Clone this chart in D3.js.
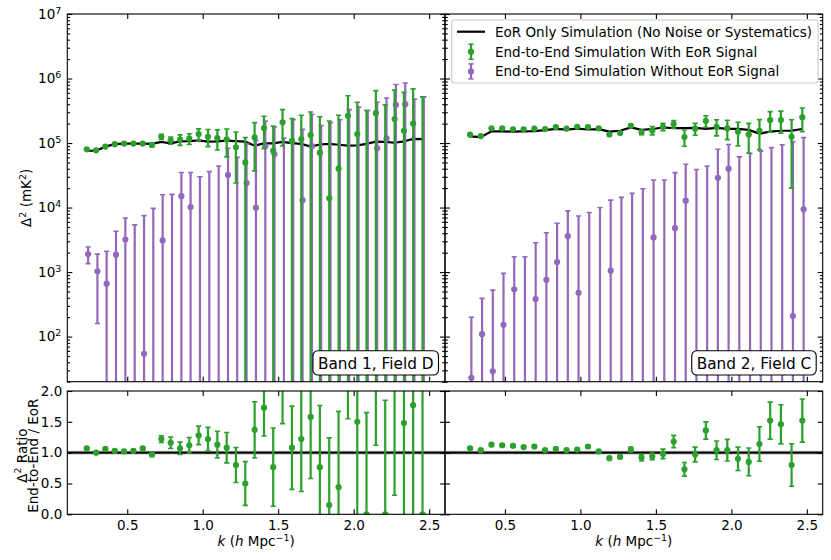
<!DOCTYPE html>
<html>
<head>
<meta charset="utf-8">
<script src="https://cdn.jsdelivr.net/npm/d3@7"></script>
<style>
  body { margin: 0; background: #fff; }
  text { font-family: "DejaVu Sans", sans-serif; }
</style>
</head>
<body>
<div id="chart"></div>
<script>
// Band 1, Field D (left column)
const kD = [0.232, 0.294, 0.355, 0.417, 0.479, 0.541, 0.603, 0.664, 0.726, 0.788, 0.850, 0.911, 0.973,
  1.035, 1.097, 1.159, 1.220, 1.282, 1.344, 1.406, 1.467, 1.529, 1.591, 1.653, 1.715, 1.776, 1.838,
  1.900, 1.962, 2.024, 2.085, 2.147, 2.209, 2.271, 2.333, 2.394, 2.456];
const eorD = [7.6e4, 7.6e4, 8.8e4, 9.6e4, 9.8e4, 9.8e4, 9.8e4, 9.7e4, 1.04e5, 9.9e4, 1.06e5, 1.07e5, 1.10e5,
  1.05e5, 1.06e5, 1.09e5, 1.07e5, 1.05e5, 9.1e4, 9.9e4, 9.9e4, 1.04e5, 1.0e5, 9.7e4, 8.8e4, 9.5e4, 9.7e4,
  9.4e4, 9.1e4, 9.2e4, 9.7e4, 1.05e5, 1.04e5, 1.01e5, 1.06e5, 1.16e5, 1.15e5];
const withD = [8.0e4, 7.7e4, 8.8e4, 9.6e4, 9.8e4, 9.8e4, 9.8e4, 9.4e4, 1.25e5, 1.10e5, 1.13e5, 1.17e5, 1.38e5,
  1.25e5, 1.19e5, 1.13e5, 8.6e4, 5.0e4, 1.22e5, 1.71e5, 7.6e4, 2.1e5, 1.07e5, 1.15e5, 1.33e5, 7.1e4, 1.39e4,
  4.0e4, 2.65e5, 1.38e5, -5e4, 2.9e5, -3e4, 2.35e5, 1.55e5, 2.0e5, -1e4];
const withErrD = [2.5e3, 2.5e3, 2.5e3, 2.5e3, 2.5e3, 2.5e3, 2.5e3, 7e3, 1.1e4, 1.4e4, 2.1e4, 2.2e4, 2.8e4,
  3.7e4, 4.1e4, 5.2e4, 6.2e4, 7.2e4, 8.5e4, 8.9e4, 1.08e5, 1.2e5, 1.33e5, 1.55e5, 1.7e5, 1.85e5, 2.06e5,
  2.3e5, 2.75e5, 2.9e5, 3.7e5, 3.6e5, 4.2e5, 4.25e5, 4.55e5, 4.9e5, 5.3e5];
const withoutD = [1.9e3, 1.03e3, 660, 1.86e3, 3.2e3, -600, 54, -1000, 3.1e3, -2000, 1.5e4, 1.02e4, -5000,
  -4000, -5000, 3.2e4, -8000, 2.4e4, 9.9e3, 8.9e4, 6.7e4, -1e4, -2e4, 1.3e4, 9.0e4, -2e4, -3e4,
  -3e4, -4e4, -4e4, -5e4, 8.3e4, 1.18e5, 3.9e5, 4.0e5, -5e4, -5e4];
const withoutErrD = [5.5e2, 8.7e2, 1.44e3, 2.44e3, 3.7e3, 6.0e3, 7.45e3, 1.07e4, 1.27e4, 1.8e4, 2.0e4, 2.48e4, 3.5e4,
  4.0e4, 4.9e4, 5.1e4, 6.8e4, 7.3e4, 1.0e5, 1.3e5, 1.1e5, 1.3e5, 2.5e5, 1.5e5, 1.9e5, 2.06e5, 2.37e5,
  2.6e5, 3.7e5, 4.0e5, 3.7e5, 3.5e5, 3.8e5, 4.2e5, 4.5e5, 5.3e5, 5.7e5];
const ratioD = [1.07, 1.00, 1.06, 1.03, 1.02, 1.03, 1.07, 0.97, 1.22, 1.16, 1.07, 1.12, 1.28,
  1.22, 1.13, 1.08, 0.80, 0.50, 1.37, 1.73, 0.765, 2.05, 1.08, 1.22, 1.58, 0.765, 0.15,
  0.44, 2.9, 1.50, 0.0, 2.8, 0.0, 2.33, 1.48, 1.77, 0.0];
const ratioErrD = [0.02, 0.02, 0.02, 0.02, 0.02, 0.02, 0.025, 0.03, 0.055, 0.093, 0.1, 0.126, 0.15,
  0.19, 0.216, 0.246, 0.284, 0.355, 0.456, 0.46, 0.634, 0.58, 0.675, 0.85, 1.0, 1.0, 1.09,
  1.23, 1.35, 1.6, 1.65, 1.68, 1.85, 2.02, 1.9, 2.0, 2.1];

// Band 2, Field C (right column)
const kC = [0.269, 0.340, 0.411, 0.482, 0.553, 0.624, 0.695, 0.766, 0.837, 0.908, 0.979, 1.050, 1.121,
  1.192, 1.263, 1.334, 1.405, 1.476, 1.547, 1.618, 1.689, 1.760, 1.831, 1.902, 1.973, 2.044,
  2.115, 2.186, 2.257, 2.328, 2.399, 2.470];
const eorC = [1.27e5, 1.24e5, 1.52e5, 1.52e5, 1.5e5, 1.52e5, 1.53e5, 1.59e5, 1.66e5, 1.62e5, 1.67e5, 1.62e5, 1.64e5,
  1.5e5, 1.55e5, 1.75e5, 1.6e5, 1.65e5, 1.74e5, 1.7e5, 1.7e5, 1.72e5, 1.66e5, 1.72e5, 1.66e5, 1.66e5,
  1.6e5, 1.4e5, 1.5e5, 1.55e5, 1.56e5, 1.65e5];
const withC = [1.35e5, 1.28e5, 1.69e5, 1.69e5, 1.63e5, 1.63e5, 1.67e5, 1.65e5, 1.77e5, 1.67e5, 1.79e5, 1.77e5, 1.69e5,
  1.36e5, 1.43e5, 1.85e5, 1.47e5, 1.57e5, 1.79e5, 1.97e5, 1.24e5, 1.67e5, 2.2e5, 1.79e5, 1.69e5, 1.5e5,
  1.36e5, 1.55e5, 2.27e5, 2.27e5, 1.25e5, 2.5e5];
const withErrC = [3e3, 3e3, 3e3, 3e3, 3e3, 3e3, 3e3, 3e3, 3e3, 3e3, 3e3, 4e3, 5e3,
  6e3, 6e3, 8e3, 1.2e4, 2.3e4, 2.3e4, 2.7e4, 3.5e4, 3.5e4, 4.5e4, 5e4, 5.6e4, 6e4,
  6.6e4, 7.6e4, 8e4, 8.5e4, 1.05e5, 1.0e5];
const withoutC = [23, 109, 29, 152, 540, -100, 381, 758, 1430, 3600, 478, -500, -500,
  1050, -1000, -1000, -1000, 3450, -2000, 4800, 1.28e4, -3000, -3000, 2.9e4, 4.0e4, -5000,
  -5000, -5000, -5000, -5000, 208, 9.4e3];
const withoutErrC = [176, 282, 496, 803, 1190, 1830, 2470, 3310, 4270, 5300, 6920, 8900, 1.05e4,
  1.2e4, 1.54e4, 1.76e4, 2.06e4, 2.33e4, 2.87e4, 3.0e4, 3.42e4, 4.2e4, 4.7e4, 5.1e4, 5.5e4, 6.6e4,
  7.4e4, 8.0e4, 9.0e4, 9.9e4, 1.05e5, 1.12e5];
const ratioC = [1.07, 1.04, 1.13, 1.12, 1.11, 1.09, 1.10, 1.04, 1.06, 1.04, 1.05, 1.10, 1.02,
  0.91, 0.93, 1.05, 0.92, 0.94, 0.98, 1.18, 0.73, 0.97, 1.36, 1.04, 1.04, 0.90,
  0.85, 1.14, 1.52, 1.46, 0.80, 1.52];
const ratioErrC = [0.02, 0.02, 0.02, 0.02, 0.02, 0.02, 0.02, 0.02, 0.02, 0.02, 0.02, 0.02, 0.02,
  0.02, 0.02, 0.04, 0.055, 0.055, 0.077, 0.1, 0.11, 0.12, 0.14, 0.15, 0.175, 0.19,
  0.225, 0.28, 0.3, 0.317, 0.344, 0.35];

// Axis ticks and labels
const kTicks = [0.5, 1.0, 1.5, 2.0, 2.5];
const decadeTicks = [1e2, 1e3, 1e4, 1e5, 1e6, 1e7];
const ratioTicks = [0.0, 0.5, 1.0, 1.5, 2.0];
const panelLabels = ["Band 1, Field D", "Band 2, Field C"];
const legendLabels = ["EoR Only Simulation (No Noise or Systematics)",
  "End-to-End Simulation With EoR Signal",
  "End-to-End Simulation Without EoR Signal"];

// Layout
const width = 831, height = 560;
const cols = [[67.3, 445], [445, 822.7]];
const topRange = [381.7, 14], botRange = [514.3, 391];
const green = "#2ca02c", purple = "#9467bd";
const fs = 13.5;

const minorTicks = [];
for (let e = 1; e < 7; e++) for (let m = 2; m < 10; m++) {
  const v = m * Math.pow(10, e);
  if (v >= 20 && v <= 1e7) minorTicks.push(v);
}

const svg = d3.select("#chart").append("svg")
  .attr("width", width)
  .attr("height", height);

const panels = [
  { k: kD, eor: eorD, w: withD, we: withErrD, wo: withoutD, woe: withoutErrD, r: ratioD, re: ratioErrD },
  { k: kC, eor: eorC, w: withC, we: withErrC, wo: withoutC, woe: withoutErrC, r: ratioC, re: ratioErrC }
];

function styleAxis(g) {
  g.select(".domain").remove();
  g.selectAll(".tick line").attr("stroke-width", 1.1);
  g.selectAll("text").attr("font-size", fs).attr("font-family", "DejaVu Sans").attr("fill", "#000");
}

function addClip(id, xr, yr) {
  svg.append("clipPath").attr("id", id)
    .append("rect")
    .attr("x", xr[0]).attr("y", yr[1])
    .attr("width", xr[1] - xr[0]).attr("height", yr[0] - yr[1]);
}

// error bars with caps and dots
function errorbars(g, x, y, ks, vals, errs, color, dx, floor, dotOk) {
  const pts = ks.map((k, i) => ({ k: k, v: vals[i], e: errs[i] }));
  g.append("g").selectAll("line")
    .data(pts)
    .join("line")
    .attr("x1", d => x(d.k) + dx).attr("x2", d => x(d.k) + dx)
    .attr("y1", d => y(Math.max(d.v - d.e, floor)))
    .attr("y2", d => y(d.v + d.e))
    .attr("stroke", color).attr("stroke-width", 2.2);
  const caps = [];
  pts.forEach(d => {
    if (d.v - d.e > floor) caps.push({ k: d.k, y: d.v - d.e });
    caps.push({ k: d.k, y: d.v + d.e });
  });
  g.append("g").selectAll("line")
    .data(caps)
    .join("line")
    .attr("x1", d => x(d.k) + dx - 2.6).attr("x2", d => x(d.k) + dx + 2.6)
    .attr("y1", d => y(d.y)).attr("y2", d => y(d.y))
    .attr("stroke", color).attr("stroke-width", 1.6);
  g.append("g").selectAll("circle")
    .data(pts.filter(d => dotOk(d.v)))
    .join("circle")
    .attr("cx", d => x(d.k) + dx)
    .attr("cy", d => y(d.v))
    .attr("r", 3.1)
    .attr("fill", color);
}

function supText(sel, parts) {
  // parts: [text, 1 = superscript / -1 = back to baseline, italic]
  parts.forEach(p => {
    const t = sel.append("tspan").text(p[0]);
    if (p[2]) t.attr("font-style", "italic");
    if (p[1] === 1) t.attr("font-size", "0.7em").attr("dy", "-0.55em");
    if (p[1] === -1) t.attr("dy", "0.385em");
  });
}

panels.forEach((p, i) => {
  const x = d3.scaleLinear().domain([0.103, 2.605]).range(cols[i]);
  const yTop = d3.scaleLog().domain([20, 1e7]).range(topRange);
  const yBot = d3.scaleLinear().domain([0, 2]).range(botRange);

  // ---- top panel ----
  addClip("clipT" + i, cols[i], topRange);
  const gt = svg.append("g").attr("clip-path", `url(#clipT${i})`);

  const line = d3.line().x((d, j) => x(p.k[j])).y(d => yTop(d));
  gt.append("path")
    .datum(p.eor)
    .attr("d", line)
    .attr("fill", "none")
    .attr("stroke", "#000")
    .attr("stroke-width", 2.2);

  errorbars(gt, x, yTop, p.k, p.wo, p.woe, purple, 1.3, 1, v => v > 0);
  errorbars(gt, x, yTop, p.k, p.w, p.we, green, 0, 1, v => v > 0);

  // ticks for top panel
  svg.append("g").attr("transform", `translate(0,${topRange[0]})`)
    .call(d3.axisBottom(x).tickValues(kTicks).tickSize(-5).tickFormat("")).call(styleAxis);
  svg.append("g").attr("transform", `translate(0,${topRange[1]})`)
    .call(d3.axisTop(x).tickValues(kTicks).tickSize(-5).tickFormat("")).call(styleAxis);
  const yl = svg.append("g").attr("transform", `translate(${cols[i][0]},0)`)
    .call(d3.axisLeft(yTop).tickValues(decadeTicks).tickSize(-5).tickPadding(6).tickFormat(d => ""))
    .call(styleAxis);
  if (i === 0) {
    yl.selectAll(".tick text").each(function (d) {
      const t = d3.select(this);
      t.text(null);
      supText(t, [["10", 0], [String(Math.round(Math.log10(d))), 1]]);
    });
  }
  svg.append("g").attr("transform", `translate(${cols[i][0]},0)`)
    .call(d3.axisLeft(yTop).tickValues(minorTicks).tickSize(-2.8).tickFormat("")).call(styleAxis);
  svg.append("g").attr("transform", `translate(${cols[i][1]},0)`)
    .call(d3.axisRight(yTop).tickValues(decadeTicks).tickSize(-5).tickFormat("")).call(styleAxis);
  svg.append("g").attr("transform", `translate(${cols[i][1]},0)`)
    .call(d3.axisRight(yTop).tickValues(minorTicks).tickSize(-2.8).tickFormat("")).call(styleAxis);

  svg.append("rect")
    .attr("x", cols[i][0]).attr("y", topRange[1])
    .attr("width", cols[i][1] - cols[i][0]).attr("height", topRange[0] - topRange[1])
    .attr("fill", "none").attr("stroke", "#000").attr("stroke-width", 1.1);

  // panel label box (lower right)
  const lab = svg.append("text")
    .attr("x", cols[i][1] - 11.5)
    .attr("y", topRange[0] - 13)
    .attr("text-anchor", "end")
    .attr("font-size", 15.3)
    .text(panelLabels[i]);
  const bb = lab.node().getBBox();
  svg.append("rect")
    .attr("x", bb.x - 5).attr("y", topRange[0] - 31)
    .attr("width", bb.width + 10).attr("height", 24.3)
    .attr("rx", 5)
    .attr("fill", "#fff").attr("stroke", "#000").attr("stroke-width", 1.1);
  lab.raise();

  // ---- bottom (ratio) panel ----
  addClip("clipB" + i, cols[i], botRange);
  const gb = svg.append("g").attr("clip-path", `url(#clipB${i})`);
  gb.append("line")
    .attr("x1", cols[i][0]).attr("x2", cols[i][1])
    .attr("y1", yBot(1)).attr("y2", yBot(1))
    .attr("stroke", "#dedede").attr("stroke-width", 4.5);
  gb.append("line")
    .attr("x1", cols[i][0]).attr("x2", cols[i][1])
    .attr("y1", yBot(1)).attr("y2", yBot(1))
    .attr("stroke", "#000").attr("stroke-width", 2.2);
  errorbars(gb, x, yBot, p.k, p.r, p.re, green, 0, -10, v => true);

  svg.append("g").attr("transform", `translate(0,${botRange[0]})`)
    .call(d3.axisBottom(x).tickValues(kTicks).tickSize(-5).tickPadding(6).tickFormat(d3.format(".1f")))
    .call(styleAxis);
  svg.append("g").attr("transform", `translate(0,${botRange[1]})`)
    .call(d3.axisTop(x).tickValues(kTicks).tickSize(-5).tickFormat("")).call(styleAxis);
  svg.append("g").attr("transform", `translate(${cols[i][0]},0)`)
    .call(d3.axisLeft(yBot).tickValues(ratioTicks).tickSize(-5).tickPadding(5)
      .tickFormat(i === 0 ? d3.format(".1f") : d => "")).call(styleAxis);
  svg.append("g").attr("transform", `translate(${cols[i][1]},0)`)
    .call(d3.axisRight(yBot).tickValues(ratioTicks).tickSize(-5).tickFormat("")).call(styleAxis);
  svg.append("rect")
    .attr("x", cols[i][0]).attr("y", botRange[1])
    .attr("width", cols[i][1] - cols[i][0]).attr("height", botRange[0] - botRange[1])
    .attr("fill", "none").attr("stroke", "#000").attr("stroke-width", 1.1);

  // x label
  const xl = svg.append("text")
    .attr("x", (cols[i][0] + cols[i][1]) / 2)
    .attr("y", 546)
    .attr("text-anchor", "middle")
    .attr("font-size", fs);
  supText(xl, [["k", 0, true], [" (", 0], ["h", 0, true], [" Mpc", 0], ["\u22121", 1], [")", -1]]);
});

// y labels
const yl1 = svg.append("text")
  .attr("transform", `translate(31,${(topRange[0] + topRange[1]) / 2}) rotate(-90)`)
  .attr("text-anchor", "middle")
  .attr("font-size", fs);
supText(yl1, [["\u0394", 0], ["2", 1], [" (mK", -1], ["2", 1], [")", -1]]);

const yl2 = svg.append("text")
  .attr("transform", `translate(26.5,${(botRange[0] + botRange[1]) / 2 + 3}) rotate(-90)`)
  .attr("text-anchor", "middle")
  .attr("font-size", fs);
supText(yl2, [["\u0394", 0], ["2", 1], [" Ratio", -1]]);

svg.append("text")
  .attr("transform", `translate(38.3,${(botRange[0] + botRange[1]) / 2 + 3}) rotate(-90)`)
  .attr("text-anchor", "middle")
  .attr("font-size", fs)
  .text("End-to-End / EoR");

// legend
const lg = svg.append("g");
lg.append("rect")
  .attr("x", 451.7).attr("y", 20)
  .attr("width", 366.3).attr("height", 63)
  .attr("rx", 3)
  .attr("fill", "#fff").attr("fill-opacity", 0.8)
  .attr("stroke", "#cccccc").attr("stroke-width", 1.1);
const rowsY = [31.7, 51.7, 71.4];
lg.append("line")
  .attr("x1", 457).attr("x2", 485).attr("y1", rowsY[0]).attr("y2", rowsY[0])
  .attr("stroke", "#000").attr("stroke-width", 2.2);
[[green, rowsY[1]], [purple, rowsY[2]]].forEach(([c, yy]) => {
  lg.append("line").attr("x1", 471).attr("x2", 471).attr("y1", yy - 7.5).attr("y2", yy + 7.5)
    .attr("stroke", c).attr("stroke-width", 2.2);
  [yy - 7.5, yy + 7.5].forEach(cy => lg.append("line")
    .attr("x1", 468.4).attr("x2", 473.6).attr("y1", cy).attr("y2", cy)
    .attr("stroke", c).attr("stroke-width", 1.6));
  lg.append("circle").attr("cx", 471).attr("cy", yy).attr("r", 3.1).attr("fill", c);
});
legendLabels.forEach((t, j) => {
  lg.append("text")
    .attr("x", 495).attr("y", rowsY[j])
    .attr("dy", "0.36em")
    .attr("font-size", fs)
    .text(t);
});
</script>
</body>
</html>
